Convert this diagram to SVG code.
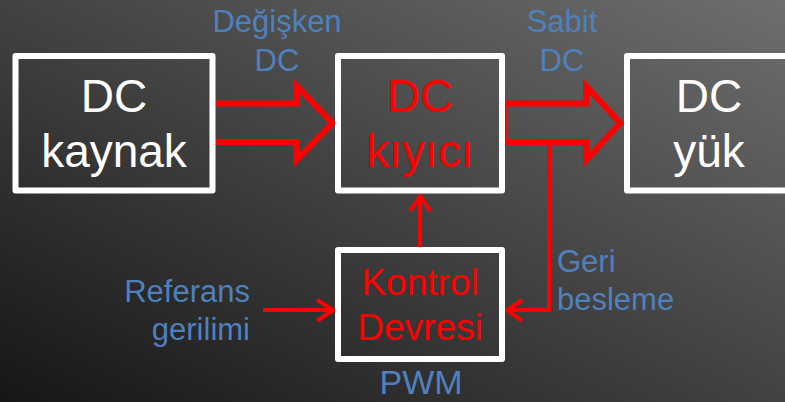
<svg xmlns="http://www.w3.org/2000/svg" width="785" height="402" viewBox="0 0 785 402">
  <defs>
    <linearGradient id="bg" x1="0" y1="1" x2="1" y2="0">
      <stop offset="0" stop-color="#161616"/>
      <stop offset="1" stop-color="#6e6e6e"/>
    </linearGradient>
  </defs>
  <style>
    .box { fill: none; stroke: #FFFFFF; stroke-width: 6; stroke-linejoin: round; }
    .big { font-family: "Liberation Sans", Arial, sans-serif; font-size: 46px; text-anchor: middle; }
    .mid { font-family: "Liberation Sans", Arial, sans-serif; font-size: 37px; text-anchor: middle; fill: #FF0000; }
    .lbl { font-family: "Liberation Sans", Arial, sans-serif; font-size: 31px; fill: #4F81BD; }
    .white { fill: #FFFFFF; }
    .red { fill: #FF0000; }
    .fat { fill: none; stroke: #FF0000; stroke-width: 6; stroke-linejoin: miter; stroke-miterlimit: 10; }
    .thin { fill: none; stroke: #FF0000; stroke-width: 4; stroke-linejoin: miter; }
  </style>
  <rect x="0" y="0" width="785" height="402" fill="url(#bg)"/>

  <g id="connectors">
    <path class="fat" d="M 215 103.5 H 296.5 V 86 L 332 123 L 296.5 160 V 142 H 215"/>
    <path class="fat" d="M 504 103.5 H 586 V 86 L 620 123 L 586 160 V 142 H 504 Z"/>
    <path class="thin" d="M 549 142 V 310 H 507"/>
    <polyline class="thin" points="522,300 507,310 522,321"/>
    <path class="thin" d="M 420 247 V 196"/>
    <polyline class="thin" points="410,211 420,196 430,211"/>
    <path class="thin" d="M 263 310 H 333"/>
    <polyline class="thin" points="317,300 333,310 317,321"/>
  </g>

  <g id="node-kaynak">
    <rect class="box" x="15.5" y="56" width="197" height="134.5"/>
    <text class="big white" x="114" y="112">DC</text>
    <text class="big white" x="114" y="167">kaynak</text>
  </g>

  <g id="node-kiyici">
    <rect class="box" x="338" y="56" width="164" height="134.5"/>
    <text class="big red" x="420" y="112">DC</text>
    <text class="big red" x="420" y="167">kıyıcı</text>
  </g>

  <g id="node-yuk">
    <rect class="box" x="627" y="56" width="200" height="134.5"/>
    <text class="big white" x="709" y="112">DC</text>
    <text class="big white" x="709" y="167">yük</text>
  </g>

  <g id="node-kontrol">
    <rect class="box" x="338" y="250" width="164" height="109"/>
    <text class="mid" x="420" y="295">Kontrol</text>
    <text class="mid" x="420" y="340">Devresi</text>
  </g>

  <g id="labels">
    <text class="lbl" x="277" y="32" text-anchor="middle">Değişken</text>
    <text class="lbl" x="277" y="70.5" text-anchor="middle">DC</text>
    <text class="lbl" x="562" y="32" text-anchor="middle">Sabit</text>
    <text class="lbl" x="562" y="70.5" text-anchor="middle">DC</text>
    <text class="lbl" x="557" y="272">Geri</text>
    <text class="lbl" x="557" y="310">besleme</text>
    <text class="lbl" x="250" y="302" text-anchor="end">Referans</text>
    <text class="lbl" x="250" y="340" text-anchor="end">gerilimi</text>
    <text class="lbl" x="421" y="394" text-anchor="middle" style="font-size:34px">PWM</text>
  </g>
</svg>
